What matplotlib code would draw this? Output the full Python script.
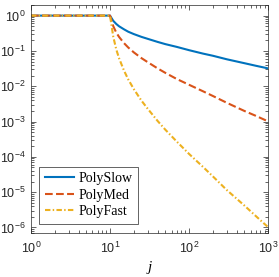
import numpy as np
import matplotlib
matplotlib.use("Agg")
import matplotlib.pyplot as plt

# valeurs
j = [1, 10, 11, 12, 13, 15, 17, 20, 25, 30, 40, 50, 70, 100, 150, 200, 300, 500, 700, 1000]
poly_slow = [1, 1, 0.71, 0.58, 0.50, 0.41, 0.35, 0.30, 0.25, 0.22, 0.18, 0.156, 0.13,
             0.105, 0.084, 0.073, 0.058, 0.045, 0.038, 0.032]
poly_med = [1, 1, 0.5, 0.33, 0.25, 0.167, 0.125, 0.091, 0.0625, 0.048, 0.032, 0.024, 0.016,
            0.011, 0.0072, 0.0053, 0.0034, 0.002, 0.00145, 0.00101]
poly_fast = [1, 1, 0.25, 0.11, 0.0625, 0.028, 0.0156, 0.0083, 0.0039, 0.0023, 0.00104,
             0.00059, 0.00027, 0.000121, 5.2e-5, 2.8e-5, 1.15e-5, 4.2e-6, 2.1e-6, 1.02e-6]
labels = ["PolySlow", "PolyMed", "PolyFast"]

plt.rcParams["mathtext.default"] = "regular"
plt.rcParams["font.family"] = "Liberation Sans"

fig = plt.figure(figsize=(2.79, 2.77), dpi=100)
ax = fig.add_axes([0.111, 0.159, 0.850, 0.823])

ax.loglog(j, poly_slow, "-", color="#0072BD", lw=1.5, label=labels[0])
ax.loglog(j, poly_med, "--", color="#D95319", lw=1.5, label=labels[1])
ax.loglog(j, poly_fast, color="#EDB120", lw=1.5, label=labels[2],
          dashes=(2.6, 1.1, 0.7, 1.1))

ax.set_xlim(1, 1000)
ax.set_ylim(7e-7, 2)
ax.set_yticks([1e-6, 1e-5, 1e-4, 1e-3, 1e-2, 1e-1, 1])
ax.tick_params(which="both", direction="in", top=True, right=True,
               colors="#262626", labelsize=9, width=0.5)
ax.tick_params(which="major", length=3.5)
ax.tick_params(which="minor", length=2)
ax.tick_params(axis="x", which="major", pad=6)
ax.tick_params(axis="y", which="major", pad=4)
for s in ax.spines.values():
    s.set_color("#262626")
    s.set_linewidth(0.5)

ax.set_xlabel("j", family="Liberation Serif", style="italic", fontsize=11, labelpad=3)

leg = ax.legend(loc="lower left", bbox_to_anchor=(0.035, 0.04), fancybox=False,
                framealpha=1, edgecolor="#262626", handlelength=2.1,
                borderpad=0.4, labelspacing=0.25, handletextpad=0.3,
                borderaxespad=0,
                prop={"family": "Liberation Serif", "size": 10})
leg.get_frame().set_linewidth(0.5)

fig.savefig("out.png", dpi=100)
